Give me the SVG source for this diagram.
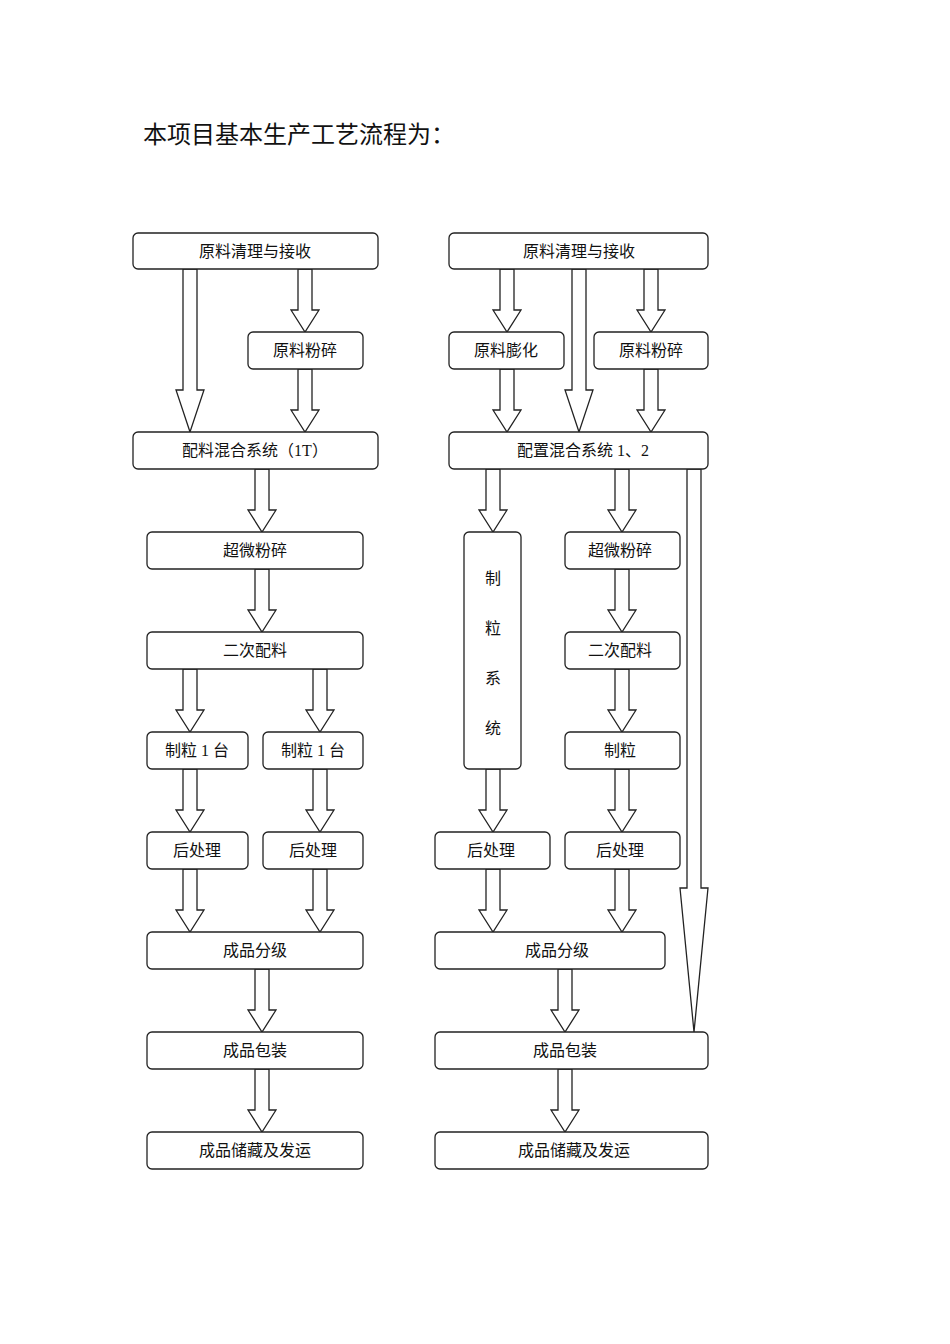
<svg xmlns="http://www.w3.org/2000/svg" width="950" height="1344" viewBox="0 0 950 1344">
<style>
.b{fill:#fff;stroke:#222;stroke-width:1.3}
.a{fill:#fff;stroke:#222;stroke-width:1.3;stroke-linejoin:miter}
text{font-family:"Liberation Serif","Noto Sans CJK SC",serif;font-size:16px;fill:#111;text-anchor:middle}
.t{font-size:24px;text-anchor:start}
</style>
<rect width="950" height="1344" fill="#fff"/>
<text class="t" x="143" y="143">本项目基本生产工艺流程为：</text>
<g id="connectors">
<polygon class="a" points="183,269 183,390 176,390 190,432 204,390 197,390 197,269"/>
<polygon class="a" points="298,269 298,310 291,310 305,332 319,310 312,310 312,269"/>
<polygon class="a" points="298,369 298,410 291,410 305,432 319,410 312,410 312,369"/>
<polygon class="a" points="255,469 255,510 248,510 262,532 276,510 269,510 269,469"/>
<polygon class="a" points="255,569 255,610 248,610 262,632 276,610 269,610 269,569"/>
<polygon class="a" points="183,669 183,710 176,710 190,732 204,710 197,710 197,669"/>
<polygon class="a" points="313,669 313,710 306,710 320,732 334,710 327,710 327,669"/>
<polygon class="a" points="183,769 183,810 176,810 190,832 204,810 197,810 197,769"/>
<polygon class="a" points="313,769 313,810 306,810 320,832 334,810 327,810 327,769"/>
<polygon class="a" points="183,869 183,910 176,910 190,932 204,910 197,910 197,869"/>
<polygon class="a" points="313,869 313,910 306,910 320,932 334,910 327,910 327,869"/>
<polygon class="a" points="255,969 255,1010 248,1010 262,1032 276,1010 269,1010 269,969"/>
<polygon class="a" points="255,1069 255,1110 248,1110 262,1132 276,1110 269,1110 269,1069"/>
<polygon class="a" points="500,269 500,310 493,310 507,332 521,310 514,310 514,269"/>
<polygon class="a" points="572,269 572,390 565,390 579,432 593,390 586,390 586,269"/>
<polygon class="a" points="644,269 644,310 637,310 651,332 665,310 658,310 658,269"/>
<polygon class="a" points="500,369 500,410 493,410 507,432 521,410 514,410 514,369"/>
<polygon class="a" points="644,369 644,410 637,410 651,432 665,410 658,410 658,369"/>
<polygon class="a" points="486,469 486,510 479,510 493,532 507,510 500,510 500,469"/>
<polygon class="a" points="615,469 615,510 608,510 622,532 636,510 629,510 629,469"/>
<polygon class="a" points="687,469 687,888 680,888 694,1032 708,888 701,888 701,469"/>
<polygon class="a" points="615,569 615,610 608,610 622,632 636,610 629,610 629,569"/>
<polygon class="a" points="615,669 615,710 608,710 622,732 636,710 629,710 629,669"/>
<polygon class="a" points="615,769 615,810 608,810 622,832 636,810 629,810 629,769"/>
<polygon class="a" points="486,769 486,810 479,810 493,832 507,810 500,810 500,769"/>
<polygon class="a" points="486,869 486,910 479,910 493,932 507,910 500,910 500,869"/>
<polygon class="a" points="615,869 615,910 608,910 622,932 636,910 629,910 629,869"/>
<polygon class="a" points="558,969 558,1010 551,1010 565,1032 579,1010 572,1010 572,969"/>
<polygon class="a" points="558,1069 558,1110 551,1110 565,1132 579,1110 572,1110 572,1069"/>
</g>
<g id="L1"><rect class="b" x="133" y="233" width="245" height="36" rx="5"/><text x="255" y="257">原料清理与接收</text></g>
<g id="L2"><rect class="b" x="248" y="332" width="115" height="37" rx="5"/><text x="305" y="356">原料粉碎</text></g>
<g id="L3"><rect class="b" x="133" y="432" width="245" height="37" rx="5"/><text x="255" y="456">配料混合系统（1T）</text></g>
<g id="L4"><rect class="b" x="147" y="532" width="216" height="37" rx="5"/><text x="255" y="556">超微粉碎</text></g>
<g id="L5"><rect class="b" x="147" y="632" width="216" height="37" rx="5"/><text x="255" y="656">二次配料</text></g>
<g id="L6"><rect class="b" x="147" y="732" width="101" height="37" rx="5"/><text x="197" y="756">制粒 1 台</text></g>
<g id="L7"><rect class="b" x="263" y="732" width="100" height="37" rx="5"/><text x="313" y="756">制粒 1 台</text></g>
<g id="L8"><rect class="b" x="147" y="832" width="101" height="37" rx="5"/><text x="197" y="856">后处理</text></g>
<g id="L9"><rect class="b" x="263" y="832" width="100" height="37" rx="5"/><text x="313" y="856">后处理</text></g>
<g id="L10"><rect class="b" x="147" y="932" width="216" height="37" rx="5"/><text x="255" y="956">成品分级</text></g>
<g id="L11"><rect class="b" x="147" y="1032" width="216" height="37" rx="5"/><text x="255" y="1056">成品包装</text></g>
<g id="L12"><rect class="b" x="147" y="1132" width="216" height="37" rx="5"/><text x="255" y="1156">成品储藏及发运</text></g>
<g id="R1"><rect class="b" x="449" y="233" width="259" height="36" rx="5"/><text x="579" y="257">原料清理与接收</text></g>
<g id="R2"><rect class="b" x="449" y="332" width="115" height="37" rx="5"/><text x="506" y="356">原料膨化</text></g>
<g id="R3"><rect class="b" x="594" y="332" width="114" height="37" rx="5"/><text x="651" y="356">原料粉碎</text></g>
<g id="R4"><rect class="b" x="449" y="432" width="259" height="37" rx="5"/><text x="583" y="456">配置混合系统 1、2</text></g>
<g id="R5"><rect class="b" x="464" y="532" width="57" height="237" rx="5"/><text x="493" y="584">制</text><text x="493" y="634">粒</text><text x="493" y="684">系</text><text x="493" y="734">统</text></g>
<g id="R6"><rect class="b" x="565" y="532" width="115" height="37" rx="5"/><text x="620" y="556">超微粉碎</text></g>
<g id="R7"><rect class="b" x="565" y="632" width="115" height="37" rx="5"/><text x="620" y="656">二次配料</text></g>
<g id="R8"><rect class="b" x="565" y="732" width="115" height="37" rx="5"/><text x="620" y="756">制粒</text></g>
<g id="R9"><rect class="b" x="435" y="832" width="115" height="37" rx="5"/><text x="491" y="856">后处理</text></g>
<g id="R10"><rect class="b" x="565" y="832" width="115" height="37" rx="5"/><text x="620" y="856">后处理</text></g>
<g id="R11"><rect class="b" x="435" y="932" width="230" height="37" rx="5"/><text x="557" y="956">成品分级</text></g>
<g id="R12"><rect class="b" x="435" y="1032" width="273" height="37" rx="5"/><text x="565" y="1056">成品包装</text></g>
<g id="R13"><rect class="b" x="435" y="1132" width="273" height="37" rx="5"/><text x="574" y="1156">成品储藏及发运</text></g>
</svg>
